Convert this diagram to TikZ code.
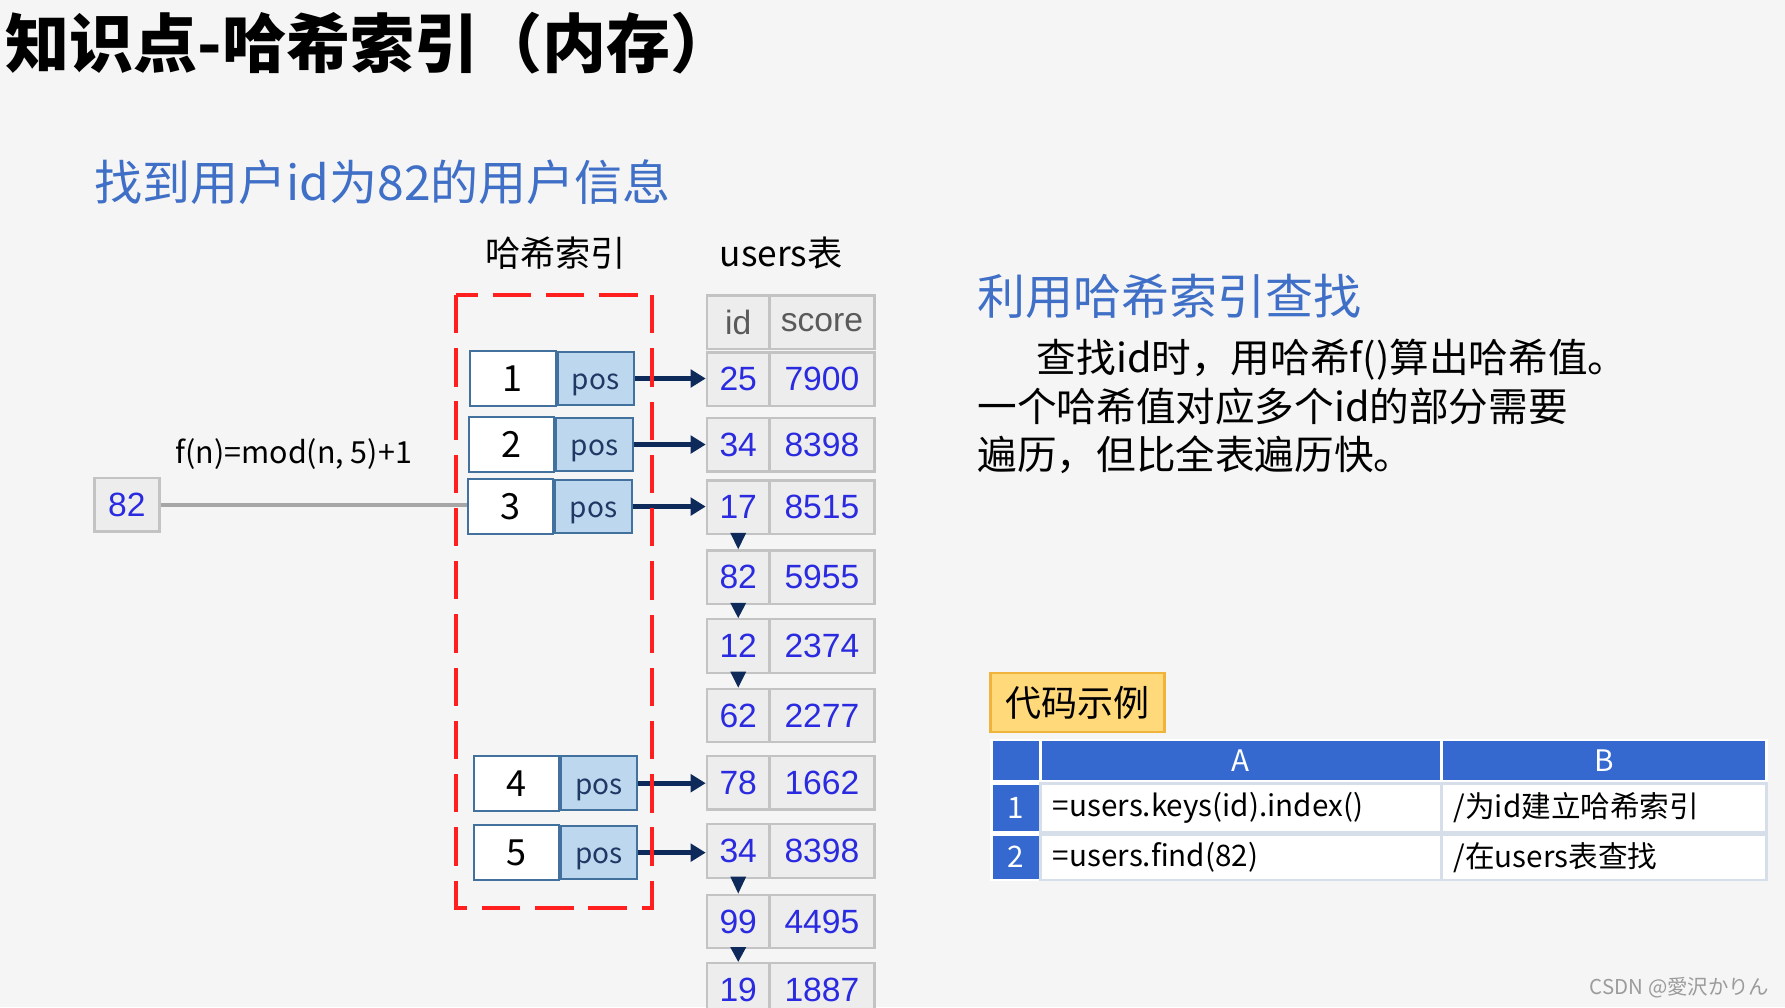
\documentclass[tikz,border=0pt]{standalone}
\usepackage{fontspec}
\setmainfont{Noto Sans CJK SC}
\newfontfamily\cellfont{Liberation Sans}
\usetikzlibrary{arrows.meta, calc}
\definecolor{slideBg}{HTML}{F5F5F5}
\definecolor{headBlue}{HTML}{3F6FC6}
\definecolor{zoneRed}{HTML}{FF1F1F}
\definecolor{keyEdge}{HTML}{41719C}
\definecolor{posFill}{HTML}{BDD7EE}
\definecolor{posText}{HTML}{1F3864}
\definecolor{ptrNavy}{HTML}{0E2A5A}
\definecolor{cellFill}{HTML}{EDEDED}
\definecolor{cellEdge}{HTML}{C3C3C3}
\definecolor{digitBlue}{HTML}{2A2AE0}
\definecolor{hdrGray}{HTML}{5A5A5A}
\definecolor{feedGray}{HTML}{A6A6A6}
\definecolor{tagFill}{HTML}{FFD97A}
\definecolor{tagEdge}{HTML}{F0B43C}
\definecolor{gridBlue}{HTML}{3569CF}
\definecolor{gridLine}{HTML}{D6DEEA}
\definecolor{markGray}{HTML}{9B9B9B}

\begin{document}
\begin{tikzpicture}[x=0.01cm,y=-0.01cm,
  keybox/.style={draw=keyEdge,fill=white,line width=0.5pt,minimum width=0.75cm,minimum height=0.48cm,inner sep=0pt,font=\fontsize{9}{10}\selectfont},
  posbox/.style={draw=keyEdge,fill=posFill,line width=0.5pt,minimum width=0.67cm,minimum height=0.47cm,inner sep=0pt,text height=1.5ex,text depth=0.5ex,text=posText,font=\fontsize{7}{8}\selectfont},
  ucell/.style={draw=cellEdge,fill=cellFill,line width=0.6pt,minimum height=0.47cm,inner sep=0pt,text=digitBlue,font=\cellfont\fontsize{8.4}{9}\selectfont},
  idcell/.style={ucell,minimum width=0.55cm},
  scorecell/.style={ucell,minimum width=0.92cm},
  ptr/.style={ptrNavy,line width=1.2pt,-{Triangle[length=3.8pt,width=4.4pt]}},
  feed/.style={feedGray,line width=0.9pt},
  zone/.style={zoneRed,line width=1pt,dash pattern=on 9.6pt off 3.7pt},
  tagbox/.style={draw=tagEdge,fill=tagFill,line width=0.6pt,minimum width=1.53cm,minimum height=0.52cm,inner sep=0pt,font=\fontsize{9}{10}\selectfont},
  gridhead/.style={fill=gridBlue,draw=white,line width=0.7pt,text=white,inner sep=0pt,font=\fontsize{7.4}{8}\selectfont},
  gridbody/.style={fill=white,draw=gridLine,line width=0.7pt,inner ysep=0pt,inner xsep=0.11cm,align=left,font=\fontsize{7.4}{8}\selectfont}]
\useasboundingbox (0,0) rectangle (1568,885);
\clip (0,0) rectangle (1568,885);
\fill[slideBg] (0,0) rectangle (1568,885);
\newcommand{\hashrow}[4]{%
  \node[keybox] (k#1) at (#2+37.5,#3) {#4};
  \node[posbox,anchor=west] (p#1) at (k#1.east) {pos};
}
\newcommand{\userrow}[4]{%
  \node[idcell] (u#1) at (648.5,#2) {#3};
  \node[scorecell] (s#1) at (722,#2) {#4};
}
\newcommand{\droptip}[2]{%
  \fill[ptrNavy] ($(#1.south)+(-7,-2)$) -- ($(#1.south)+(7,-2)$) -- (#2.north) -- cycle;
}
\newcommand{\gridrow}[5]{%
  \node[gridhead,minimum width=0.43cm,minimum height=#3] (g#1) at (892.5,#2) {#1};
  \node[gridbody,text width=3.30cm,minimum height=#3] (ga#1) at (1090,#2) {#4};
  \node[gridbody,text width=2.64cm,minimum height=#3] (gb#1) at (1409,#2) {#5};
}
\node[anchor=west,inner sep=0pt,font=\bfseries\fontsize{16}{18}\selectfont] (title) at (4,38) {知识点-哈希索引（内存）};
\node[anchor=west,inner sep=0pt,text=headBlue,font=\fontsize{12}{14}\selectfont] (goal) at (82,160) {找到用户id为82的用户信息};
\node[font=\fontsize{8.8}{10}\selectfont] (idxlab) at (488,222) {哈希索引};
\node[font=\fontsize{8.8}{10}\selectfont] (tablab) at (686,222) {users表};
\node[idcell,text=hdrGray] (hid) at (648.5,283) {id};
\node[scorecell,text=hdrGray] (hscore) at (722,283) {score};
\userrow{1}{333}{25}{7900}
\userrow{2}{390.5}{34}{8398}
\userrow{3}{445.5}{17}{8515}
\userrow{4}{507}{82}{5955}
\userrow{5}{567.5}{12}{2374}
\userrow{6}{628.5}{62}{2277}
\userrow{7}{687.5}{78}{1662}
\userrow{8}{747.5}{34}{8398}
\userrow{9}{809.5}{99}{4495}
\userrow{10}{869.5}{19}{1887}
\droptip{u3}{u4}
\droptip{u4}{u5}
\droptip{u5}{u6}
\droptip{u8}{u9}
\droptip{u9}{u10}
\hashrow{1}{413}{332.5}{1}
\hashrow{2}{412}{390.5}{2}
\hashrow{3}{411}{445}{3}
\hashrow{4}{416}{688}{4}
\hashrow{5}{416}{749}{5}
\draw[ptr] (p1.east) -- (p1.east -| u1.west);
\draw[ptr] (p2.east) -- (p2.east -| u2.west);
\draw[ptr] (p3.east) -- (p3.east -| u3.west);
\draw[ptr] (p4.east) -- (p4.east -| u7.west);
\draw[ptr] (p5.east) -- (p5.east -| u8.west);
\node[ucell,minimum width=0.57cm] (probe) at (111.5,443.5) {82};
\node[font=\fontsize{7.6}{9}\selectfont] (fn) at (258,399) {f(n)=mod(n, 5)+1};
\draw[feed] (probe.east) -- (probe.east -| k3.west);
\draw[zone] (401,259) rectangle (573,798);
\node[anchor=west,inner sep=0pt,text=headBlue,font=\fontsize{12}{14}\selectfont] (how) at (858,260) {利用哈希索引查找};
\node[anchor=west,inner sep=0pt,align=left,font=\fontsize{9.9}{12.1}\selectfont] (note) at (858,357) {\hspace*{1.5em}查找id时，用哈希f()算出哈希值。\\一个哈希值对应多个id的部分需要\\遍历，但比全表遍历快。};
\node[tagbox] (demo) at (946.5,617) {代码示例};
\node[gridhead,minimum width=0.43cm,minimum height=0.36cm] (g0) at (892.5,668) {};
\node[gridhead,minimum width=3.52cm,minimum height=0.36cm] (gA) at (1090,668) {A};
\node[gridhead,minimum width=2.86cm,minimum height=0.36cm] (gB) at (1409,668) {B};
\gridrow{1}{709.5}{0.43cm}{=users.keys(id).index()}{/为id建立哈希索引}
\gridrow{2}{753}{0.40cm}{=users.find(82)}{/在users表查找}
\node[anchor=east,inner sep=0pt,text=markGray,font=\fontsize{5.1}{6}\selectfont] (mark) at (1555,868) {CSDN @愛沢かりん};
\end{tikzpicture}
\end{document}
